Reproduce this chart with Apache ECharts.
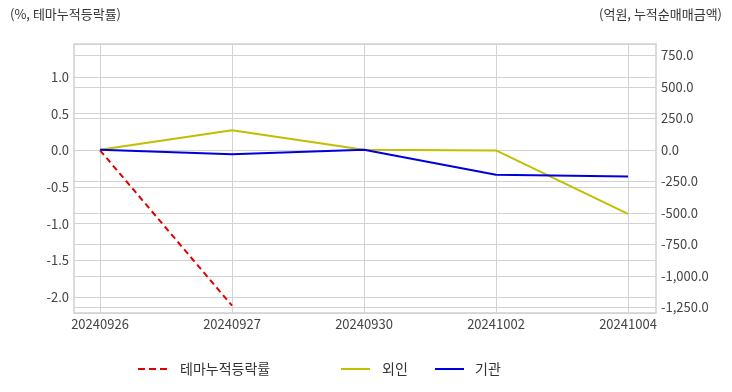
<!DOCTYPE html>
<html>
<head>
<meta charset="utf-8">
<script src="https://cdn.jsdelivr.net/npm/echarts@6/dist/echarts.min.js"></script>
<style>
  html, body { margin: 0; padding: 0; background: #fff; }
  #chart { width: 732px; height: 392px; }
</style>
</head>
<body>
<div id="chart"></div>
<script>
const categories = ['20240926', '20240927', '20240930', '20241002', '20241004'];
const themeReturn = [0, -2.12, null, null, null];
const foreignNet = [0, 156, 0, -5, -508];
const institutionNet = [0, -35, 0, -197, -212];
const leftAxisRange = [-2.22, 1.45];
const rightAxisRange = [-1295, 840];
const leftTitle = '(%, 테마누적등락률)';
const rightTitle = '(억원, 누적순매매금액)';
const seriesNames = ['테마누적등락률', '외인', '기관'];

const FONT = '"Noto Sans CJK KR", "Noto Sans", sans-serif';
const GRID_COLOR = '#d3d3d3';
const LABEL_COLOR = '#444';
const RED = '#e00000', YELLOW = '#c0bf00', BLUE = '#0000dd';

function fmtRight(v) {
  return Number(v).toLocaleString('en-US', { minimumFractionDigits: 1, maximumFractionDigits: 1 });
}

const DASH_ICON = 'path://M0,0h7v2h-7z M11,0h7v2h-7z M22,0h7v2h-7z';
const SOLID_ICON = 'path://M0,0h29v2h-29z';

function legendAt(name, left, icon, color, pad) {
  return {
    data: [{ name: name, icon: icon, itemStyle: { color: color } }],
    left: left, top: 357, itemWidth: 29, itemHeight: 2,
    textStyle: { fontSize: 14, color: '#333', padding: [0, 0, 0, pad], fontFamily: FONT }
  };
}

const chart = echarts.init(document.getElementById('chart'), null, { renderer: 'canvas' });
const option = {
  animation: false,
  backgroundColor: '#fff',
  textStyle: { fontFamily: FONT },
  title: [
    { text: leftTitle, left: 5, top: 3, textStyle: { fontSize: 13, fontWeight: 'normal', color: '#333', fontFamily: FONT } },
    { text: rightTitle, right: 5, top: 3, textStyle: { fontSize: 13, fontWeight: 'normal', color: '#333', fontFamily: FONT } }
  ],
  grid: [
    { left: 74, right: 76, top: 44, bottom: 79, show: true, borderColor: '#cfcfcf', borderWidth: 1.5, containLabel: false },
    { left: 100, right: 104, top: 44, bottom: 79, containLabel: false }
  ],
  xAxis: [
    { gridIndex: 0, type: 'value', min: 0, max: 1, show: false },
    {
      gridIndex: 1, type: 'category', data: categories, boundaryGap: false,
      axisLine: { show: false }, axisTick: { show: false },
      axisLabel: { color: LABEL_COLOR, fontSize: 13, margin: 5, fontFamily: FONT },
      splitLine: { show: true, lineStyle: { color: GRID_COLOR, width: 1 } }
    }
  ],
  yAxis: [
    {
      gridIndex: 0, type: 'value', position: 'left',
      min: leftAxisRange[0], max: leftAxisRange[1], minInterval: 0.5, maxInterval: 0.5,
      axisLine: { show: false }, axisTick: { show: false },
      axisLabel: { color: LABEL_COLOR, fontSize: 13, margin: 5, showMinLabel: false, showMaxLabel: false,
        formatter: v => Number(v).toFixed(1), fontFamily: FONT },
      splitLine: { show: true, lineStyle: { color: GRID_COLOR, width: 1 } }
    },
    {
      gridIndex: 0, type: 'value', position: 'right',
      min: rightAxisRange[0], max: rightAxisRange[1], minInterval: 250, maxInterval: 250,
      axisLine: { show: false }, axisTick: { show: false },
      axisLabel: { color: LABEL_COLOR, fontSize: 13, margin: 5, showMinLabel: false, showMaxLabel: false,
        formatter: fmtRight, fontFamily: FONT },
      splitLine: { show: true, lineStyle: { color: GRID_COLOR, width: 1 } }
    },
    { gridIndex: 1, type: 'value', min: leftAxisRange[0], max: leftAxisRange[1], show: false },
    { gridIndex: 1, type: 'value', min: rightAxisRange[0], max: rightAxisRange[1], show: false }
  ],
  legend: [
    legendAt(seriesNames[0], 133, DASH_ICON, RED, 8),
    legendAt(seriesNames[1], 336, SOLID_ICON, YELLOW, 7),
    legendAt(seriesNames[2], 430, SOLID_ICON, BLUE, 6)
  ],
  series: [
    {
      name: seriesNames[0], type: 'line', xAxisIndex: 1, yAxisIndex: 2, data: themeReturn,
      symbol: 'none', connectNulls: false,
      lineStyle: { color: RED, width: 2, type: [6, 4] }, itemStyle: { color: RED }
    },
    {
      name: seriesNames[1], type: 'line', xAxisIndex: 1, yAxisIndex: 3, data: foreignNet,
      symbol: 'none',
      lineStyle: { color: YELLOW, width: 2 }, itemStyle: { color: YELLOW }
    },
    {
      name: seriesNames[2], type: 'line', xAxisIndex: 1, yAxisIndex: 3, data: institutionNet,
      symbol: 'none',
      lineStyle: { color: BLUE, width: 2 }, itemStyle: { color: BLUE }
    }
  ]
};
chart.setOption(option);
</script>
</body>
</html>
